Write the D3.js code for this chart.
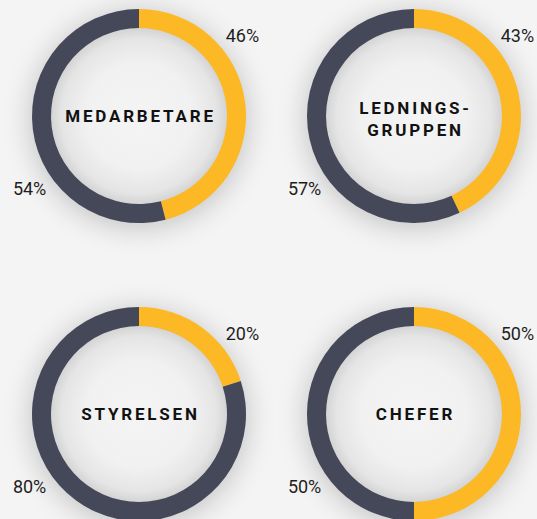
<!DOCTYPE html>
<html>
<head>
<meta charset="utf-8">
<script src="https://cdn.jsdelivr.net/npm/d3@7"></script>
<style>
  html, body { margin: 0; padding: 0; background: #f4f4f4; overflow: hidden; }
  svg { display: block; }
</style>
</head>
<body>
<div class="donuts"></div>
<script>
// chart data
var groupLabels = [["MEDARBETARE"], ["LEDNINGS-", "GRUPPEN"], ["STYRELSEN"], ["CHEFER"]];
var yellowShare = [46, 43, 20, 50];
var darkShare = [54, 57, 80, 50];

var width = 537, height = 519;
var outerR = 107, innerR = 88;

// two by two layout
var cols = d3.scalePoint().domain([0, 1]).range([139, 414]);
var rows = d3.scalePoint().domain([0, 1]).range([116, 414]);

var colour = d3.scaleOrdinal().domain(['yes', 'no']).range(['#fdb826', '#454858']);

var pie = d3.pie().sort(null).value(function(d) { return d.value; });
var arc = d3.arc().innerRadius(innerR).outerRadius(outerR);

var svg = d3.select('.donuts')
  .append('svg')
    .attr('width', width)
    .attr('height', height);

var defs = svg.append('defs');

// soft shadow around each ring
var shadow = defs.append('filter')
  .attr('id', 'ring-shadow')
  .attr('x', '-50%').attr('y', '-50%')
  .attr('width', '200%').attr('height', '200%');
shadow.append('feGaussianBlur').attr('stdDeviation', 12);

// shading on the inside of the ring
var inner = defs.append('radialGradient').attr('id', 'inner-shade');
inner.append('stop').attr('offset', '0%').attr('stop-color', '#f4f4f4');
inner.append('stop').attr('offset', '60%').attr('stop-color', '#f1f1f1');
inner.append('stop').attr('offset', '88%').attr('stop-color', '#e5e5e5');
inner.append('stop').attr('offset', '100%').attr('stop-color', '#d4d4d4');

var data = groupLabels.map(function(lines, i) {
  return {
    lines: lines,
    parts: [{ key: 'yes', value: yellowShare[i] }, { key: 'no', value: darkShare[i] }],
    cx: cols(i % 2),
    cy: rows(Math.floor(i / 2))
  };
});

var donut = svg.selectAll('.donut')
    .data(data)
  .enter().append('g')
    .attr('class', 'donut')
    .attr('transform', function(d) { return 'translate(' + d.cx + ',' + d.cy + ')'; });

donut.append('circle')
  .attr('cy', 4)
  .attr('r', outerR + 4)
  .attr('fill', 'rgba(0,0,0,0.17)')
  .attr('filter', 'url(#ring-shadow)');

donut.append('circle')
  .attr('r', innerR)
  .attr('fill', 'url(#inner-shade)');

donut.selectAll('path')
    .data(function(d) { return pie(d.parts); })
  .enter().append('path')
    .attr('d', arc)
    .attr('fill', function(d) { return colour(d.data.key); });

// percent labels sit at fixed spots: upper right and lower left
var labelAngle = [0.91, 4.13], labelR = 131;
donut.selectAll('.pct')
    .data(function(d) { return d.parts; })
  .enter().append('text')
    .attr('class', 'pct')
    .attr('x', function(d, j) { return Math.sin(labelAngle[j]) * labelR; })
    .attr('y', function(d, j) { return -Math.cos(labelAngle[j]) * labelR; })
    .attr('dy', '0.36em')
    .attr('text-anchor', 'middle')
    .style('font-family', 'Roboto, sans-serif')
    .style('font-size', '18px')
    .style('fill', '#1e1e1e')
    .text(function(d) { return d.value + '%'; });

// group name in the middle
donut.append('text')
    .attr('class', 'name')
    .attr('text-anchor', 'middle')
    .style('font-family', 'Roboto, sans-serif')
    .style('font-weight', 'bold')
    .style('font-size', '17px')
    .style('letter-spacing', '2.8px')
    .style('fill', '#111')
  .selectAll('tspan')
    .data(function(d) { return d.lines.map(function(l, k) { return { text: l, k: k, n: d.lines.length }; }); })
  .enter().append('tspan')
    .attr('x', 1.5)
    .attr('y', function(t) { return (t.k - (t.n - 1) / 2) * 22 + 6 + (t.n > 1 ? 3 : 0); })
    .text(function(t) { return t.text; });
</script>
</body>
</html>
